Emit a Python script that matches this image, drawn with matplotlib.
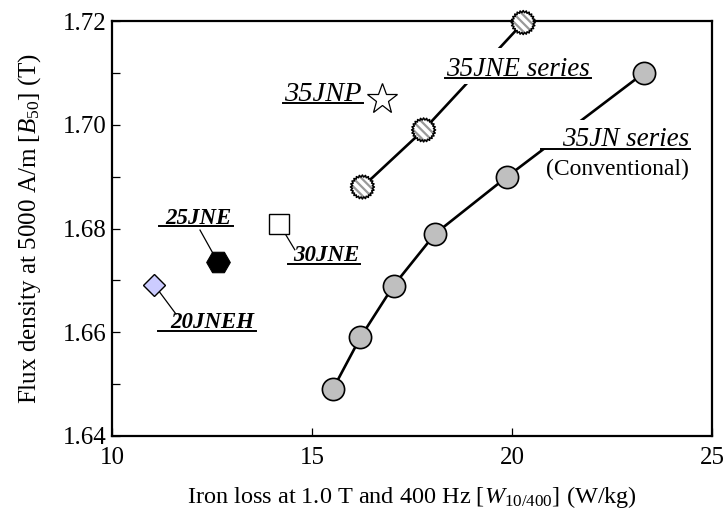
import numpy as np
import matplotlib
matplotlib.use("Agg")
import matplotlib.pyplot as plt
from matplotlib.path import Path
from matplotlib.patches import Rectangle
from matplotlib.lines import Line2D
from matplotlib.transforms import IdentityTransform

# --- data ---
jn_loss = [15.52, 16.21, 17.04, 18.08, 19.88, 23.30]
jn_b50 = [1.649, 1.659, 1.669, 1.679, 1.690, 1.710]

jne_loss = [16.26, 17.79, 20.28]
jne_b50 = [1.688, 1.699, 1.7197]

jnp_loss, jnp_b50 = 16.76, 1.7049
jne30_loss, jne30_b50 = 14.18, 1.6809
jne25_loss, jne25_b50 = 12.64, 1.6736
jneh20_loss, jneh20_b50 = 11.06, 1.6691

x_ticks = [10, 15, 20, 25]
y_ticks = [1.64, 1.66, 1.68, 1.70, 1.72]
# --------------------------------

plt.rcParams["font.family"] = ["Liberation Serif", "DejaVu Serif"]
plt.rcParams["mathtext.fontset"] = "custom"
plt.rcParams["mathtext.rm"] = "Liberation Serif"
plt.rcParams["mathtext.it"] = "Liberation Serif:italic"
plt.rcParams["hatch.linewidth"] = 1.6

W, H = 727, 515
fig = plt.figure(figsize=(W / 100, H / 100), dpi=100)
ax = fig.add_axes([112 / W, (H - 436) / H, 600 / W, 415 / H])
ax.set_xlim(10, 25)
ax.set_ylim(1.64, 1.72)

for s in ax.spines.values():
    s.set_linewidth(1.6)
ax.set_xticks(x_ticks)
ax.set_yticks(y_ticks)
ax.set_yticks(np.arange(1.65, 1.72, 0.02), minor=True)
ax.set_yticklabels([f"{v:.2f}" for v in y_ticks])
ax.tick_params(which="both", direction="in", length=6, width=0.9, labelsize=18, pad=4)
ax.tick_params(axis="x", pad=8)

ax.set_xlabel("Iron loss at 1.0 T and 400 Hz [$W_{\\mathrm{10/400}}$] (W/kg)", fontsize=17.5, labelpad=11)
ax.set_ylabel("Flux density at 5000 A/m [$B_{\\mathrm{50}}$] (T)", fontsize=18, labelpad=14)

# serrated circle for the 35JNE grades
n_spk = 24
ang = np.linspace(0, 2 * np.pi, 2 * n_spk, endpoint=False)
rad = np.where(np.arange(2 * n_spk) % 2 == 0, 1.0, 0.83)
verts = np.column_stack([rad * np.cos(ang), rad * np.sin(ang)])
verts = np.vstack([verts, verts[:1]])
burst = Path(verts, closed=True)

# series lines
ax.plot(jn_loss, jn_b50, color="black", lw=1.9, zorder=2)
ax.plot(jne_loss, jne_b50, color="black", lw=1.9, zorder=2)

# leader lines
lead_kw = dict(color="black", lw=0.9, zorder=2)
ax.plot([12.20, jne25_loss], [1.6797, jne25_b50], **lead_kw)
ax.plot([jne30_loss, 14.57], [jne30_b50, 1.6759], **lead_kw)
ax.plot([jneh20_loss, 11.60], [jneh20_b50, 1.6635], **lead_kw)

# markers
ax.plot(jn_loss, jn_b50, "o", ms=16, mfc="#bfbfbf", mec="black", mew=1.2, zorder=6, clip_on=False)
ax.scatter(jne_loss, jne_b50, s=300, marker=burst, facecolor="white", edgecolor="#999999",
           linewidths=0, hatch="\\\\\\\\", zorder=6, clip_on=False)
ax.scatter(jne_loss, jne_b50, s=300, marker=burst, facecolor="none", edgecolor="black",
           linewidths=1.1, zorder=7, clip_on=False)
ax.plot([jnp_loss], [jnp_b50], "*", ms=23, mfc="white", mec="black", mew=0.9, zorder=6)
ax.plot([jne30_loss], [jne30_b50], "s", ms=14.5, mfc="white", mec="black", mew=1.0, zorder=6)
ax.plot([jne25_loss], [jne25_b50], "H", ms=17, mfc="black", mec="black", mew=0.8, zorder=6)
ax.plot([jneh20_loss], [jneh20_b50], "D", ms=11.5, mfc="#ccccff", mec="black", mew=1.0, zorder=6)

# labels: text, x, y, ha, weight, size, underline extension (left, right), white box margins
labels = [
    ("35JNP", 16.24, 1.7046, "right", "normal", 20.5, (1, 1), None),
    ("35JNE series", 18.36, 1.7094, "left", "normal", 19.5, (1, 1), (8, 8, 8, 6)),
    ("35JN series", 24.42, 1.6959, "right", "normal", 19.5, (21, 1), (22, 2, 7, 0)),
    ("25JNE", 11.32, 1.6809, "left", "bold", 16.5, (6, 2), None),
    ("30JNE", 14.52, 1.6737, "left", "bold", 16.5, (5, 1), None),
    ("20JNEH", 11.45, 1.6608, "left", "bold", 16.5, (12, 2), None),
]
texts = []
for txt, x, y, ha, wt, fs, ext, box in labels:
    t = ax.text(x, y, txt, ha=ha, va="baseline", fontsize=fs, fontstyle="italic",
                fontweight=wt, zorder=5)
    texts.append((t, x, y, ext, box))

ax.text(24.42, 1.6903, "(Conventional)", ha="right", va="baseline", fontsize=17, zorder=5)

fig.canvas.draw()
ident = IdentityTransform()
for t, x, y, ext, box in texts:
    bb = t.get_window_extent()
    base = ax.transData.transform((x, y))[1]
    uy = base - 2.5
    ax.add_artist(Line2D([bb.x0 - ext[0], bb.x1 + ext[1]], [uy, uy], transform=ident,
                         color="black", lw=1.4, zorder=8, clip_on=False))
    if box is not None:
        l, r, top, bot = box
        ytop = base + 0.72 * t.get_fontsize() * 100 / 72 + top
        ax.add_artist(Rectangle((bb.x0 - l, uy - bot), bb.width + l + r, ytop - (uy - bot),
                                transform=ident, facecolor="white", edgecolor="none",
                                zorder=3, clip_on=False))

fig.savefig("out.png", dpi=100)
